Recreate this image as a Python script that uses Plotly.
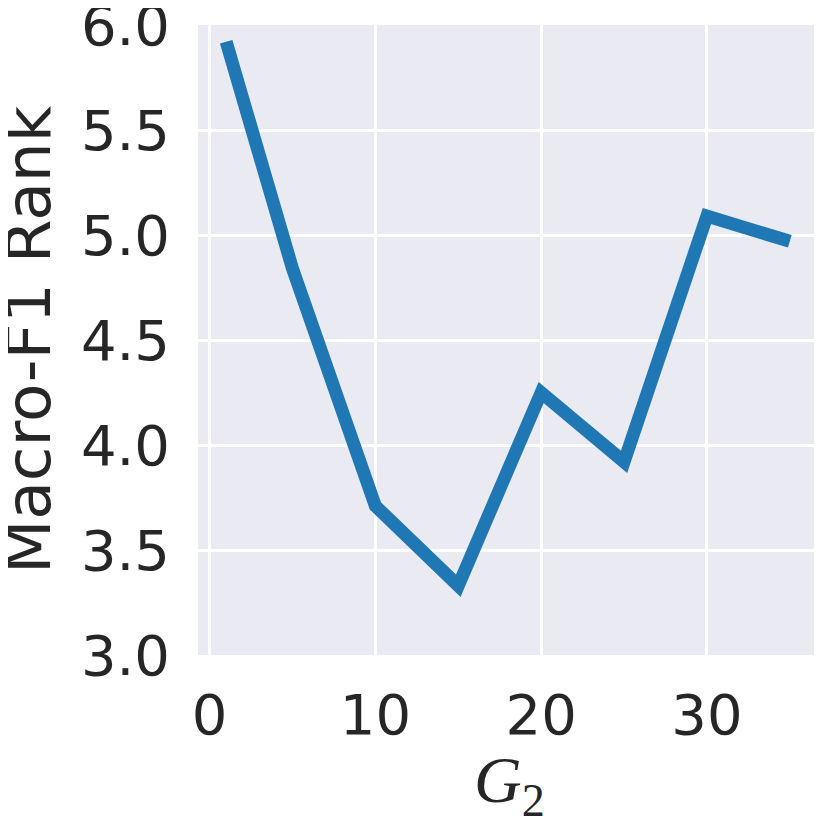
import plotly.graph_objects as go

# G2 values and macro-F1 rank
g2 = [1, 5, 10, 15, 20, 25, 30, 35]
rank = [5.92, 4.84, 3.71, 3.33, 4.25, 3.92, 5.09, 4.97]

x_ticks = [0, 10, 20, 30]
y_ticks = [3.0, 3.5, 4.0, 4.5, 5.0, 5.5, 6.0]
y_tick_text = ["3.0", "3.5", "4.0", "4.5", "5.0", "5.5", "6.0"]

fig = go.Figure(
    go.Scatter(x=g2, y=rank, mode="lines",
               line=dict(color="#1f77b4", width=13))
)

fig.update_layout(
    width=814, height=810,
    margin=dict(l=190, r=4, t=17, b=163, autoexpand=False),
    paper_bgcolor="white",
    plot_bgcolor="#EAEAF2",
    showlegend=False,
    font=dict(family="DejaVu Sans", color="#262626"),
    xaxis=dict(
        range=[-0.7, 36.7],
        tickvals=x_ticks,
        showgrid=True, gridcolor="white", gridwidth=3,
        zeroline=False, showline=False,
        automargin=False,
        tickfont=dict(size=56),
        ticklabelstandoff=22,
        ticklabeloverflow="allow",
    ),
    yaxis=dict(
        range=[3.0, 6.0],
        tickvals=y_ticks, ticktext=y_tick_text,
        showgrid=True, gridcolor="white", gridwidth=3,
        zeroline=False, showline=False,
        automargin=False,
        tickfont=dict(size=56),
        ticklabelstandoff=27,
        ticklabeloverflow="allow",
    ),
)

# axis titles placed as annotations for exact positioning
fig.add_annotation(text="Macro-F1 Rank", xref="paper", yref="paper",
                   x=-0.274, y=0.5, textangle=-90, showarrow=False,
                   xanchor="center", yanchor="middle",
                   font=dict(size=63))
fig.add_annotation(text="<i>G</i><sub>2</sub>", xref="paper", yref="paper",
                   x=0.503, y=-0.206, showarrow=False,
                   xanchor="center", yanchor="middle",
                   font=dict(family="Liberation Serif", size=66))

fig.write_html("out.html")
